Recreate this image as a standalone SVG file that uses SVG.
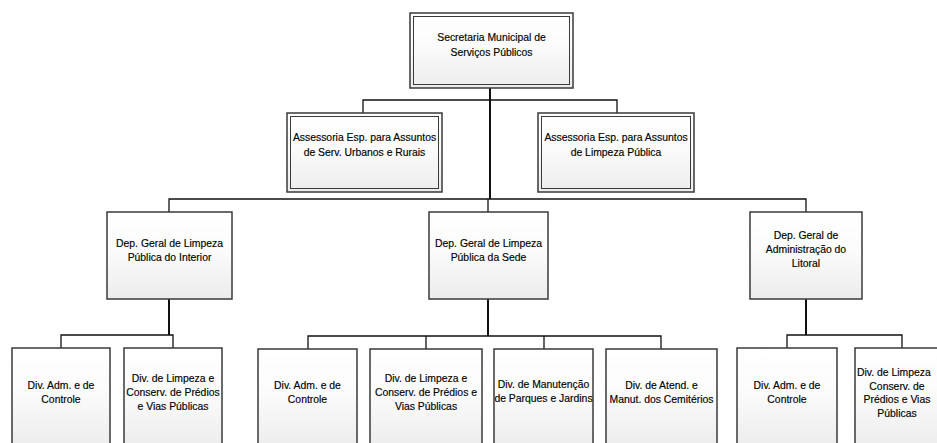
<svg xmlns="http://www.w3.org/2000/svg" width="937" height="443" viewBox="0 0 937 443">
<defs>
<linearGradient id="g" x1="0" y1="0" x2="0" y2="1">
<stop offset="0" stop-color="#ffffff"/>
<stop offset="0.45" stop-color="#fbfbfb"/>
<stop offset="1" stop-color="#ececec"/>
</linearGradient>
<style>
.box{fill:url(#g);stroke:#3a3a3a;stroke-width:1.5}
.inner{fill:none;stroke:#3a3a3a;stroke-width:1}
.c{fill:none;stroke:#111;stroke-width:1.3}
.ct{fill:none;stroke:#111;stroke-width:2}
text{font-family:"Liberation Sans",Arial,sans-serif;font-size:10.4px;fill:#000;stroke:#000;stroke-width:0.15;text-anchor:middle}
</style>
</defs>
<rect width="937" height="443" fill="#ffffff"/>
<g id="connectors">
<path class="ct" d="M490,88 V199"/>
<path class="c" d="M363,113 V100 H617 V113"/>
<path class="c" d="M169,212 V199 H806 V212 M488,199 V212"/>
<path class="ct" d="M169,299 V335 M488,299 V336 M806,299 V335"/>
<path class="c" d="M61,348 V335 H173 V348"/>
<path class="c" d="M308,349 V336 H661 V349 M426,336 V349 M544,336 V349"/>
<path class="c" d="M787,348 V335 H902 V348"/>
</g>
<g id="n-sec">
<rect class="box" x="410" y="13" width="163" height="75"/>
<rect class="inner" x="413.5" y="16.5" width="156" height="68"/>
<text x="491.5" y="41">Secretaria Municipal de</text>
<text x="491.5" y="56">Serviços Públicos</text>
</g>
<g id="n-ass1">
<rect class="box" x="287" y="113" width="155" height="79"/>
<rect class="inner" x="290.5" y="116.5" width="148" height="72"/>
<text x="364.5" y="141">Assessoria Esp. para Assuntos</text>
<text x="364.5" y="156">de Serv. Urbanos e Rurais</text>
</g>
<g id="n-ass2">
<rect class="box" x="538" y="113" width="156" height="79"/>
<rect class="inner" x="541.5" y="116.5" width="149" height="72"/>
<text x="616" y="141">Assessoria Esp. para Assuntos</text>
<text x="616" y="156">de Limpeza Pública</text>
</g>
<g id="n-dep1">
<rect class="box" x="107" y="212" width="125" height="87"/>
<text x="169.5" y="247">Dep. Geral de Limpeza</text>
<text x="169.5" y="261">Pública do Interior</text>
</g>
<g id="n-dep2">
<rect class="box" x="429" y="212" width="119" height="87"/>
<text x="488.5" y="247">Dep. Geral de Limpeza</text>
<text x="488.5" y="261">Pública da Sede</text>
</g>
<g id="n-dep3">
<rect class="box" x="750" y="212" width="112" height="87"/>
<text x="806" y="239">Dep. Geral de</text>
<text x="806" y="253">Administração do</text>
<text x="806" y="267">Litoral</text>
</g>
<g id="n-div1">
<rect class="box" x="12" y="348" width="98" height="100"/>
<text x="61" y="389">Div. Adm. e de</text>
<text x="61" y="403">Controle</text>
</g>
<g id="n-div2">
<rect class="box" x="124" y="348" width="98" height="100"/>
<text x="173" y="382">Div. de Limpeza e</text>
<text x="173" y="396">Conserv. de Prédios</text>
<text x="173" y="410">e Vias Públicas</text>
</g>
<g id="n-div3">
<rect class="box" x="258" y="349" width="99" height="100"/>
<text x="307.5" y="389">Div. Adm. e de</text>
<text x="307.5" y="403">Controle</text>
</g>
<g id="n-div4">
<rect class="box" x="370" y="349" width="112" height="100"/>
<text x="426" y="382">Div. de Limpeza e</text>
<text x="426" y="396">Conserv. de Prédios e</text>
<text x="426" y="410">Vias Públicas</text>
</g>
<g id="n-div5">
<rect class="box" x="494" y="349" width="99" height="100"/>
<text x="543.5" y="388">Div. de Manutenção</text>
<text x="543.5" y="402">de Parques e Jardins</text>
</g>
<g id="n-div6">
<rect class="box" x="606" y="349" width="111" height="100"/>
<text x="661.5" y="389">Div. de Atend. e</text>
<text x="661.5" y="403">Manut. dos Cemitérios</text>
</g>
<g id="n-div7">
<rect class="box" x="737" y="348" width="100" height="100"/>
<text x="787" y="389">Div. Adm. e de</text>
<text x="787" y="403">Controle</text>
</g>
<g id="n-div8">
<rect class="box" x="855" y="348" width="94" height="100"/>
<text x="857" y="376" style="text-anchor:start">Div. de Limpeza</text>
<text x="897" y="390">Conserv. de</text>
<text x="897" y="403">Prédios e Vias</text>
<text x="897" y="417">Públicas</text>
</g>
</svg>
